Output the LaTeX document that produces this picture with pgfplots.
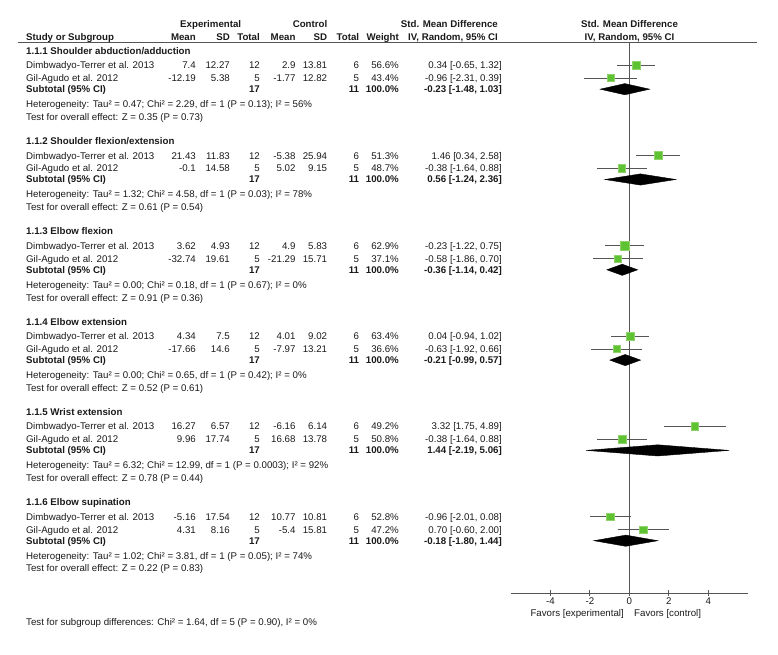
\documentclass[border=0pt]{standalone}
\usepackage{pgfplots}
\pgfplotsset{compat=1.18}
\usepackage{pgfplotstable}
\usepackage{fontspec}
\setmainfont{Liberation Sans}
\definecolor{sqgreen}{HTML}{5EC232}
\definecolor{sqborder}{HTML}{8FD46A}
\definecolor{lgray}{HTML}{555555}
\definecolor{txt}{HTML}{1A1A1A}
\newcommand\fs{\fontsize{9.7}{11.6}\selectfont}

% study estimates: y = -(pixel row), est, lower, upper, half side of square
\pgfplotstableread{
y est lo hi ms
-65.3 0.34 -0.65 1.32 4.1
-78.1 -0.96 -2.31 0.39 3.6
-155.6 1.46 0.34 2.58 3.9
-168.4 -0.38 -1.64 0.88 3.8
-245.9 -0.23 -1.22 0.75 4.3
-258.7 -0.58 -1.86 0.70 3.35
-336.2 0.04 -0.94 1.02 4.35
-349.0 -0.63 -1.92 0.66 3.3
-426.5 3.32 1.75 4.89 3.85
-439.3 -0.38 -1.64 0.88 3.9
-516.8 -0.96 -2.01 0.08 3.95
-529.6 0.70 -0.60 2.00 3.75
}\studies

\tikzset{
  tb/.style={inner sep=0pt, text height=7pt, text depth=0pt, font=\fs, text=txt},
  tl/.style={tb, anchor=west},
  tr/.style={tb, anchor=east},
  tc/.style={tb, anchor=center},
}
\newcommand\studyrow[9]{%
  \node[tl] at (26,#1) {#2};
  \node[tr] at (196,#1) {#3};
  \node[tr] at (230,#1) {#4};
  \node[tr] at (260,#1) {#5};
  \node[tr] at (295.7,#1) {#6};
  \node[tr] at (327.3,#1) {#7};
  \node[tr] at (359.3,#1) {#8};
  \node[tr] at (399,#1) {#9};}
\newcommand\ci[2]{\node[tr] at (502,#1) {#2};}
\newcommand\grouphead[2]{\node[tl] at (26,#1) {\bfseries #2};}
\newcommand\subtot[2]{%
  \node[tl] at (26,#1) {\bfseries Subtotal (95\% CI)};
  \node[tr] at (260,#1) {\bfseries 17};
  \node[tr] at (359.3,#1) {\bfseries 11};
  \node[tr] at (399,#1) {\bfseries 100.0\%};
  \node[tr] at (502,#1) {\bfseries #2};}
\newcommand\plain[2]{\node[tl] at (26,#1) {#2};}

\begin{document}
\begin{tikzpicture}
\begin{axis}[
  scale only axis, width=236.7pt, height=550.7pt,
  xmin=-6, xmax=6, ymin=-593, ymax=-42.3,
  axis x line=bottom, axis y line=none,
  axis line style={-, draw=lgray, line width=0.8pt},
  xtick={-4,-2,0,2,4},
  tick align=center, major tick length=5pt,
  tick style={draw=lgray, line width=0.8pt},
  /pgf/number format/assume math mode=true,
  xticklabel style={font=\fs, text=txt, inner sep=1pt, yshift=-1.5pt},
  clip=false,
]
% zero line
\addplot[draw=lgray, line width=0.8pt] coordinates {(0,-42.3) (0,-593)};
% confidence intervals
\addplot[only marks, mark=none,
  error bars/.cd, x dir=both, x explicit, error mark=none,
  error bar style={draw=lgray, line width=0.8pt}]
  table[x=est, y=y,
    x error plus expr={\thisrow{hi}-\thisrow{est}},
    x error minus expr={\thisrow{est}-\thisrow{lo}}] {\studies};
% study squares
\addplot[scatter, only marks, mark=square*,
  scatter/use mapped color={draw=sqborder, fill=sqgreen},
  mark options={line width=0.5pt},
  visualization depends on={\thisrow{ms} \as \msz},
  scatter/@pre marker code/.append style={/tikz/mark size=\msz}]
  table[x=est, y=y] {\studies};
% subtotal diamonds
\addplot[fill=black, draw=black] coordinates {(-1.48,-89.2) (-0.23,-83.6) (1.03,-89.2) (-0.23,-94.8)} -- cycle;
\addplot[fill=black, draw=black] coordinates {(-1.24,-179.5) (0.56,-173.9) (2.36,-179.5) (0.56,-185.1)} -- cycle;
\addplot[fill=black, draw=black] coordinates {(-1.14,-269.8) (-0.36,-264.2) (0.42,-269.8) (-0.36,-275.4)} -- cycle;
\addplot[fill=black, draw=black] coordinates {(-0.99,-360.1) (-0.21,-354.5) (0.57,-360.1) (-0.21,-365.7)} -- cycle;
\addplot[fill=black, draw=black] coordinates {(-2.19,-450.4) (1.44,-444.8) (5.06,-450.4) (1.44,-456.0)} -- cycle;
\addplot[fill=black, draw=black] coordinates {(-1.80,-540.7) (-0.18,-535.1) (1.44,-540.7) (-0.18,-546.3)} -- cycle;
\coordinate (P0) at (axis cs:-31.906,0);
\end{axis}

\begin{scope}[shift={(P0)}, x=1pt, y=-1pt]
\path (0,0) rectangle (778,655);
% headers
\node[tc] at (210.7,24.5) {\bfseries Experimental};
\node[tc] at (310,24.5) {\bfseries Control};
\node[tr] at (498,24.5) {\bfseries Std. Mean Difference};
\node[tc] at (629.5,24.5) {\bfseries Std. Mean Difference};
\node[tl] at (26,36.6) {\bfseries Study or Subgroup};
\node[tr] at (196,36.6) {\bfseries Mean};
\node[tr] at (230,36.6) {\bfseries SD};
\node[tr] at (260,36.6) {\bfseries Total};
\node[tr] at (295.7,36.6) {\bfseries Mean};
\node[tr] at (327.3,36.6) {\bfseries SD};
\node[tr] at (359.3,36.6) {\bfseries Total};
\node[tr] at (399,36.6) {\bfseries Weight};
\node[tr] at (498,36.6) {\bfseries IV, Random, 95\% CI};
\node[tc] at (629.5,36.6) {\bfseries IV, Random, 95\% CI};
\draw[lgray, line width=0.8pt] (18,42.3) -- (757,42.3);

% 1.1.1
\grouphead{50.7}{1.1.1 Shoulder abduction/adduction}
\studyrow{65.3}{Dimbwadyo-Terrer et al. 2013}{7.4}{12.27}{12}{2.9}{13.81}{6}{56.6\%}
\ci{65.3}{0.34 [-0.65, 1.32]}
\studyrow{78.1}{Gil-Agudo et al. 2012}{-12.19}{5.38}{5}{-1.77}{12.82}{5}{43.4\%}
\ci{78.1}{-0.96 [-2.31, 0.39]}
\subtot{89.2}{-0.23 [-1.48, 1.03]}
\plain{104.2}{Heterogeneity: Tau² = 0.47; Chi² = 2.29, df = 1 (P = 0.13); I² = 56\%}
\plain{117.0}{Test for overall effect: Z = 0.35 (P = 0.73)}

% 1.1.2
\grouphead{141.0}{1.1.2 Shoulder flexion/extension}
\studyrow{155.6}{Dimbwadyo-Terrer et al. 2013}{21.43}{11.83}{12}{-5.38}{25.94}{6}{51.3\%}
\ci{155.6}{1.46 [0.34, 2.58]}
\studyrow{168.4}{Gil-Agudo et al. 2012}{-0.1}{14.58}{5}{5.02}{9.15}{5}{48.7\%}
\ci{168.4}{-0.38 [-1.64, 0.88]}
\subtot{179.5}{0.56 [-1.24, 2.36]}
\plain{194.5}{Heterogeneity: Tau² = 1.32; Chi² = 4.58, df = 1 (P = 0.03); I² = 78\%}
\plain{207.3}{Test for overall effect: Z = 0.61 (P = 0.54)}

% 1.1.3
\grouphead{231.3}{1.1.3 Elbow flexion}
\studyrow{245.9}{Dimbwadyo-Terrer et al. 2013}{3.62}{4.93}{12}{4.9}{5.83}{6}{62.9\%}
\ci{245.9}{-0.23 [-1.22, 0.75]}
\studyrow{258.7}{Gil-Agudo et al. 2012}{-32.74}{19.61}{5}{-21.29}{15.71}{5}{37.1\%}
\ci{258.7}{-0.58 [-1.86, 0.70]}
\subtot{269.8}{-0.36 [-1.14, 0.42]}
\plain{284.8}{Heterogeneity: Tau² = 0.00; Chi² = 0.18, df = 1 (P = 0.67); I² = 0\%}
\plain{297.6}{Test for overall effect: Z = 0.91 (P = 0.36)}

% 1.1.4
\grouphead{321.6}{1.1.4 Elbow extension}
\studyrow{336.2}{Dimbwadyo-Terrer et al. 2013}{4.34}{7.5}{12}{4.01}{9.02}{6}{63.4\%}
\ci{336.2}{0.04 [-0.94, 1.02]}
\studyrow{349.0}{Gil-Agudo et al. 2012}{-17.66}{14.6}{5}{-7.97}{13.21}{5}{36.6\%}
\ci{349.0}{-0.63 [-1.92, 0.66]}
\subtot{360.1}{-0.21 [-0.99, 0.57]}
\plain{375.1}{Heterogeneity: Tau² = 0.00; Chi² = 0.65, df = 1 (P = 0.42); I² = 0\%}
\plain{387.9}{Test for overall effect: Z = 0.52 (P = 0.61)}

% 1.1.5
\grouphead{411.9}{1.1.5 Wrist extension}
\studyrow{426.5}{Dimbwadyo-Terrer et al. 2013}{16.27}{6.57}{12}{-6.16}{6.14}{6}{49.2\%}
\ci{426.5}{3.32 [1.75, 4.89]}
\studyrow{439.3}{Gil-Agudo et al. 2012}{9.96}{17.74}{5}{16.68}{13.78}{5}{50.8\%}
\ci{439.3}{-0.38 [-1.64, 0.88]}
\subtot{450.4}{1.44 [-2.19, 5.06]}
\plain{465.4}{Heterogeneity: Tau² = 6.32; Chi² = 12.99, df = 1 (P = 0.0003); I² = 92\%}
\plain{478.2}{Test for overall effect: Z = 0.78 (P = 0.44)}

% 1.1.6
\grouphead{502.2}{1.1.6 Elbow supination}
\studyrow{516.8}{Dimbwadyo-Terrer et al. 2013}{-5.16}{17.54}{12}{10.77}{10.81}{6}{52.8\%}
\ci{516.8}{-0.96 [-2.01, 0.08]}
\studyrow{529.6}{Gil-Agudo et al. 2012}{4.31}{8.16}{5}{-5.4}{15.81}{5}{47.2\%}
\ci{529.6}{0.70 [-0.60, 2.00]}
\subtot{540.7}{-0.18 [-1.80, 1.44]}
\plain{555.7}{Heterogeneity: Tau² = 1.02; Chi² = 3.81, df = 1 (P = 0.05); I² = 74\%}
\plain{568.5}{Test for overall effect: Z = 0.22 (P = 0.83)}

\plain{621.7}{Test for subgroup differences: Chi² = 1.64, df = 5 (P = 0.90), I² = 0\%}

\node[tr] at (624,613.3) {Favors [experimental]};
\node[tl] at (634,613.3) {Favors [control]};
\end{scope}
\end{tikzpicture}
\end{document}
